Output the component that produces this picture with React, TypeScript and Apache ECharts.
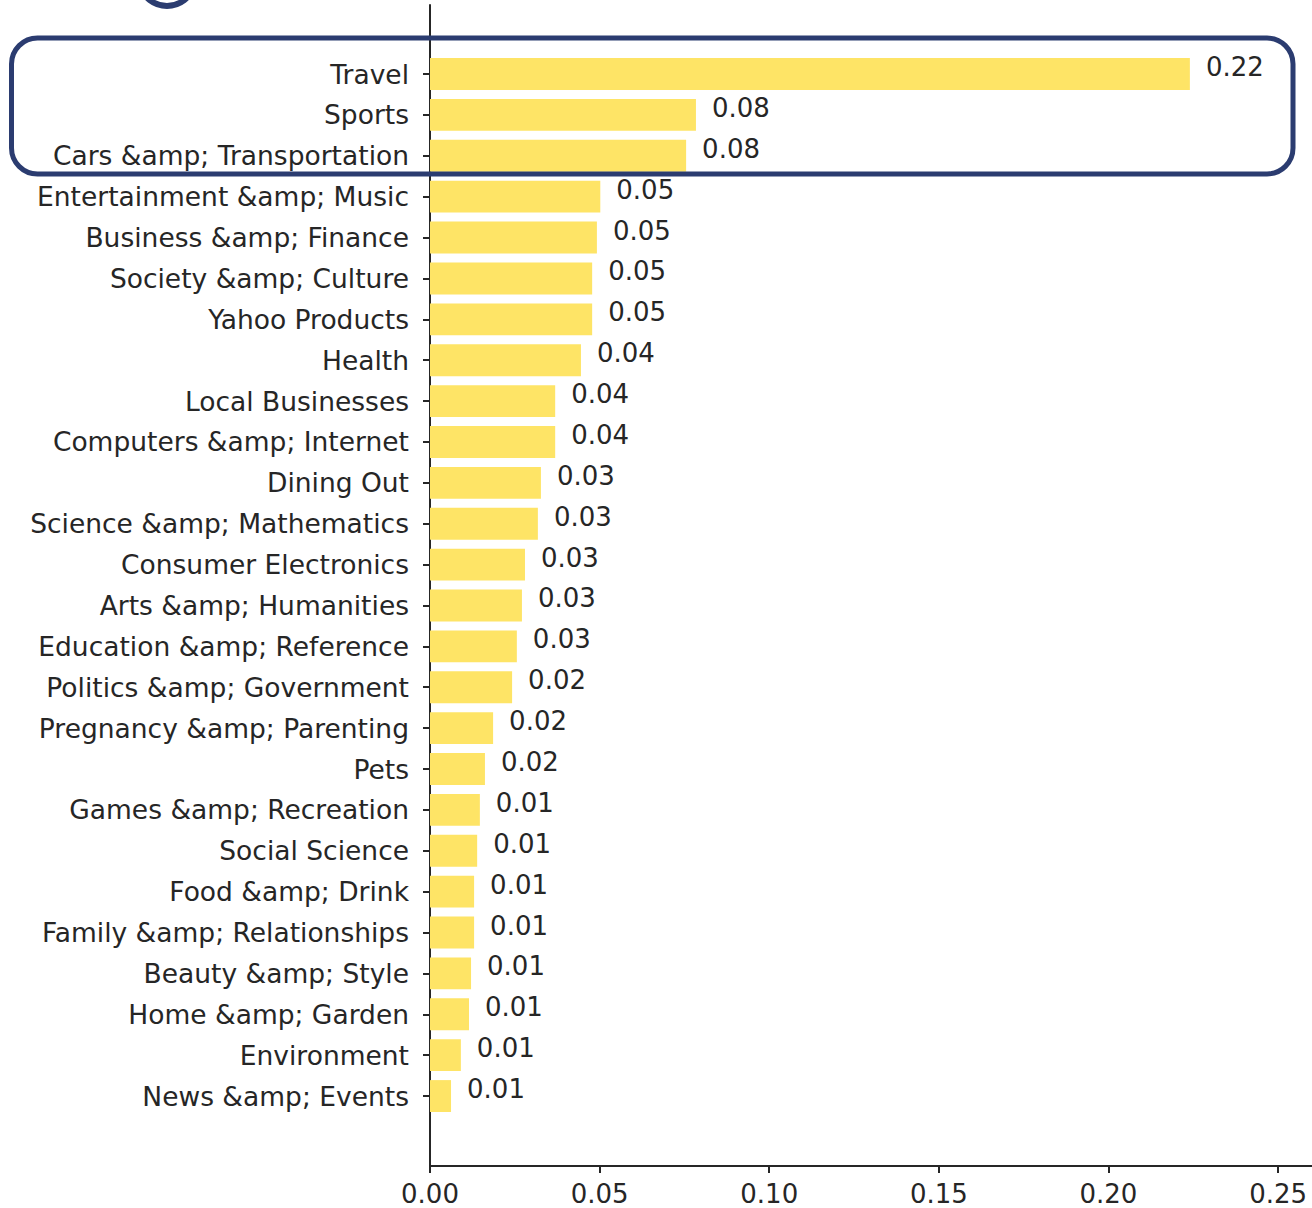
import React, { useEffect, useRef } from "react";
import * as echarts from "echarts";

const categories = [
  "Travel",
  "Sports",
  "Cars &amp; Transportation",
  "Entertainment &amp; Music",
  "Business &amp; Finance",
  "Society &amp; Culture",
  "Yahoo Products",
  "Health",
  "Local Businesses",
  "Computers &amp; Internet",
  "Dining Out",
  "Science &amp; Mathematics",
  "Consumer Electronics",
  "Arts &amp; Humanities",
  "Education &amp; Reference",
  "Politics &amp; Government",
  "Pregnancy &amp; Parenting",
  "Pets",
  "Games &amp; Recreation",
  "Social Science",
  "Food &amp; Drink",
  "Family &amp; Relationships",
  "Beauty &amp; Style",
  "Home &amp; Garden",
  "Environment",
  "News &amp; Events",
];

const values = [
  0.224, 0.0784, 0.0755, 0.0502, 0.0492, 0.0478, 0.0478, 0.0445, 0.0369,
  0.0369, 0.0327, 0.0318, 0.028, 0.0271, 0.0256, 0.0242, 0.0186, 0.0162,
  0.0147, 0.0139, 0.013, 0.013, 0.0121, 0.0115, 0.0091, 0.0062,
];

const xTicks = [0, 0.05, 0.1, 0.15, 0.2, 0.25];

const TEXT = "#262626";
const NAVY = "#2B3C70";
const BAR = "#FEE466";
const FONT = "DejaVu Sans";

export default function App() {
  const ref = useRef<HTMLDivElement>(null);
  useEffect(() => {
    if (!ref.current) return;
    const chart = echarts.init(ref.current, null, { renderer: "svg" });
    const band = 40.88;
    chart.setOption({
      animation: false,
      backgroundColor: "#ffffff",
      textStyle: { fontFamily: FONT },
      grid: [
        { left: 430, right: 0, top: 53.6, height: band * categories.length, containLabel: false },
        { left: 430, right: 0, top: 5, bottom: 42, containLabel: false },
      ],
      xAxis: [
        { type: "value", gridIndex: 0, min: 0, max: 0.26, show: false },
        {
          type: "value",
          gridIndex: 1,
          min: 0,
          max: 0.26,
          interval: 0.05,
          splitLine: { show: false },
          axisLine: { show: true, lineStyle: { color: TEXT, width: 2 } },
          axisTick: { show: true, length: 7, lineStyle: { color: TEXT, width: 2 } },
          axisLabel: {
            show: true,
            fontSize: 26,
            lineHeight: 26,
            color: TEXT,
            fontFamily: FONT,
            margin: 15,
            showMaxLabel: false,
            formatter: (v: number) =>
              xTicks.some((t) => Math.abs(t - v) < 1e-9) ? v.toFixed(2) : "",
          },
        },
      ],
      yAxis: [
        {
          type: "category",
          gridIndex: 0,
          inverse: true,
          data: categories,
          axisLine: { show: false },
          axisTick: { show: true, alignWithLabel: true, length: 7, lineStyle: { color: TEXT, width: 2 } },
          axisLabel: { fontSize: 26.5, color: TEXT, fontFamily: FONT, margin: 21 },
          splitLine: { show: false },
        },
        {
          type: "value",
          gridIndex: 1,
          min: 0,
          max: 1,
          axisLine: { show: true, lineStyle: { color: TEXT, width: 2 } },
          axisTick: { show: false },
          axisLabel: { show: false },
          splitLine: { show: false },
        },
      ],
      series: [
        {
          type: "bar",
          xAxisIndex: 0,
          yAxisIndex: 0,
          data: values,
          barWidth: "78%",
          itemStyle: { color: BAR },
          label: {
            show: true,
            position: "right",
            distance: 16,
            offset: [0, -7],
            fontSize: 26,
            color: TEXT,
            fontFamily: FONT,
            formatter: (p: any) => Number(p.value).toFixed(2),
          },
        },
      ],
      graphic: [
        {
          type: "rect",
          shape: { x: 11.5, y: 38, width: 1281.5, height: 136, r: 26 },
          style: { fill: "none", stroke: NAVY, lineWidth: 5 },
          z: 100,
        },
        {
          type: "arc",
          shape: { cx: 167, cy: -22, r: 28, startAngle: 0.25, endAngle: Math.PI - 0.25, clockwise: true },
          style: { fill: "none", stroke: NAVY, lineWidth: 6 },
          z: 100,
        },
      ],
    });
    return () => chart.dispose();
  }, []);
  return (
    <div
      ref={ref}
      style={{ position: "fixed", left: 0, top: 0, width: 1312, height: 1208, background: "#fff" }}
    />
  );
}
